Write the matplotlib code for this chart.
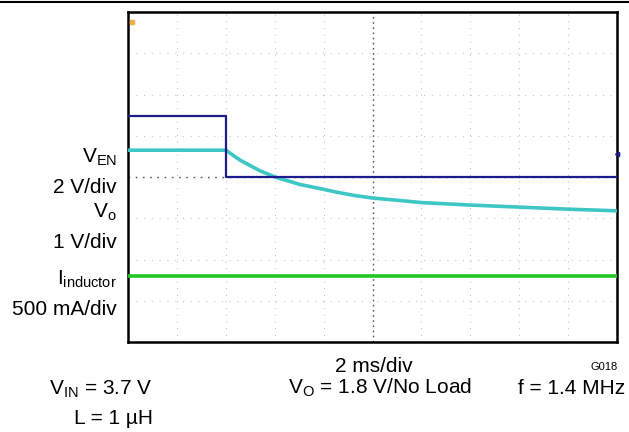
#!/usr/bin/env python3
"""Scope capture: EN step-down with output discharge (VEN, Vo, I_inductor)."""

import matplotlib
matplotlib.use('Agg')
import matplotlib.pyplot as plt
import numpy as np
from matplotlib.lines import Line2D

plt.rcParams['font.family'] = ['Liberation Sans', 'DejaVu Sans']
plt.rcParams['mathtext.fontset'] = 'custom'
plt.rcParams['mathtext.rm'] = 'Liberation Sans'
plt.rcParams['mathtext.default'] = 'rm'

# Time axis in ms (2 ms/div, centre = 0), traces in screen divisions (centre = 0)
ven_t = [-10.0, -6.0, -6.0, 10.0]
ven_div = [1.48, 1.48, 0.0, 0.0]

vo_t = [-10.0, -6.0, -5.42, -5.01, -4.6, -3.99, -2.97, -2.15, -1.53, -0.72,
        0.0, 1.12, 2.0, 4.0, 6.0, 8.0, 10.0]
vo_div = [0.65, 0.65, 0.41, 0.28, 0.15, 0.0, -0.18, -0.28, -0.36, -0.45,
          -0.51, -0.57, -0.62, -0.68, -0.73, -0.78, -0.82]

il_t = [-10.0, 10.0]
il_div = [-2.4, -2.4]

COLORS = {
    'ven': '#1c1c8e',
    'vo': '#3cc6c4',
    'il': '#22c822',
    'grid': '#c4c4c4',
    'centre': '#555555',
}

fig = plt.figure(figsize=(6.29, 4.32), dpi=100, facecolor='white')
ax = fig.add_axes([128 / 629, 90 / 432, 489 / 629, 330 / 432])
ax.set_xlim(-10, 10)
ax.set_ylim(-4, 4)
ax.set_xticks([])
ax.set_yticks([])
for sp in ax.spines.values():
    sp.set_linewidth(1.8)
    sp.set_color('black')

# graticule
for gx in np.arange(-8, 10, 2):
    c, ls = (COLORS['centre'], (0, (1.2, 2.5))) if gx == 0 else (COLORS['grid'], (0, (1, 5)))
    ax.axvline(gx, color=c, lw=1.0 if gx == 0 else 0.8, ls=ls, zorder=1)
for gy in np.arange(-3, 4, 1):
    c, ls = (COLORS['centre'], (0, (1.2, 4))) if gy == 0 else (COLORS['grid'], (0, (1, 6)))
    ax.axhline(gy, color=c, lw=1.0 if gy == 0 else 0.8, ls=ls, zorder=1)

ax.plot(il_t, il_div, color=COLORS['il'], lw=2.6, zorder=3)
ax.plot(vo_t, vo_div, color=COLORS['vo'], lw=2.6, zorder=4, solid_joinstyle='round')
ax.plot(ven_t, ven_div, color=COLORS['ven'], lw=1.6, zorder=5)

# small scope markers
ax.plot([-9.85], [3.75], marker='s', ms=3, color='#f0b040', clip_on=False, zorder=6)
ax.plot([10.0], [0.55], marker='<', ms=3, color=COLORS['ven'], clip_on=False, zorder=6)

# top rule
fig.add_artist(Line2D([0, 1], [1 - 2 / 432, 1 - 2 / 432], color='black', lw=1.5))

fs = 15
lx = 117 / 629


def fy(py):
    return 1 - py / 432


def label(x, py, s, ha, size=fs):
    fig.text(x, fy(py), s, fontsize=size, ha=ha, va='baseline')


label(lx, 163, r'V$_{\mathregular{EN}}$', 'right')
label(lx, 193, '2 V/div', 'right')
label(lx, 218, r'V$_{\mathregular{o}}$', 'right')
label(lx, 248, '1 V/div', 'right')
label(lx, 285, r'I$_{\mathregular{inductor}}$', 'right')
label(lx, 315, '500 mA/div', 'right')

label(374 / 629, 372, '2 ms/div', 'center')
label(618 / 629, 370, 'G018', 'right', size=8)
label(153 / 629, 395, r'V$_{\mathregular{IN}}$ = 3.7 V', 'right')
label(380 / 629, 394, r'V$_{\mathregular{O}}$ = 1.8 V/No Load', 'center')
label(625 / 629, 394, 'f = 1.4 MHz', 'right')
label(153 / 629, 424, 'L = 1 µH', 'right')

fig.savefig('out.png', dpi=100, facecolor='white')
plt.close(fig)
